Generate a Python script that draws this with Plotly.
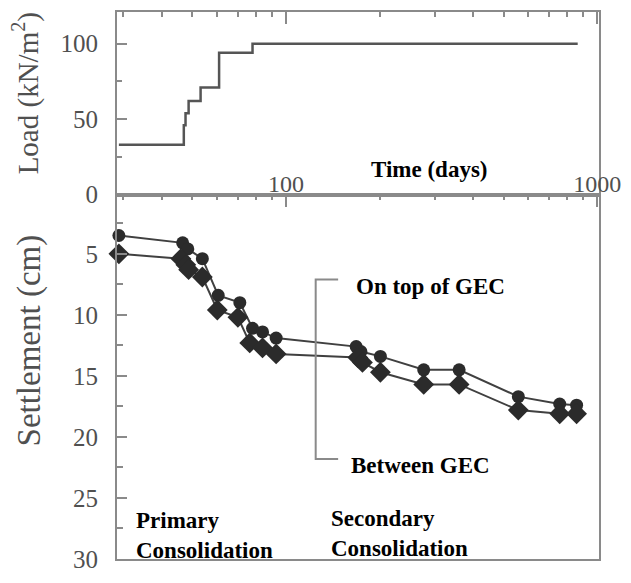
import math
import plotly.graph_objects as go

# ---- data ----
load_days = [29.0, 46.9, 47.5, 48.6, 53.1, 60.9, 78.0, 866]
load_kn = [33, 46, 54, 62, 71, 94, 100, 100]

top_days = [29.0, 46.5, 48.3, 53.8, 60.5, 71.0, 78.0, 84.0, 92.9, 168, 174, 201, 277, 360, 558, 758, 859]
top_settle = [3.5, 4.1, 4.6, 5.4, 8.4, 9.0, 11.1, 11.4, 11.9, 12.6, 13.0, 13.4, 14.5, 14.5, 16.7, 17.3, 17.4]

btw_days = [29.0, 45.9, 47.6, 48.6, 53.8, 60.1, 70.0, 76.4, 84.0, 92.9, 170, 176, 201, 277, 360, 558, 758, 859]
btw_settle = [5.0, 5.4, 5.9, 6.3, 6.9, 9.6, 10.2, 12.3, 12.7, 13.2, 13.5, 13.9, 14.7, 15.7, 15.7, 17.8, 18.1, 18.1]

bracket_days = [147, 124.5, 124.5, 147]
bracket_settle = [7.1, 7.1, 21.8, 21.8]

x_tickvals = [100, 1000]
x_ticktext = ["100", "1000"]
x_minor = [30, 40, 50, 60, 70, 80, 90, 200, 300, 400, 500, 600, 700, 800, 900]
load_ticks = [0, 50, 100]
load_minor = [25, 75]
settle_ticks = [5, 10, 15, 20, 25, 30]
settle_minor = [2.5, 7.5, 12.5, 17.5, 22.5, 27.5]

# ---- figure ----
AX = "#8a8a8a"
TXT = "#505050"
xr = [math.log10(28.6), 3.006]

fig = go.Figure()
fig.add_trace(go.Scatter(x=load_days, y=load_kn, mode="lines", line=dict(color="#555555", width=2.5, shape="hv"),
                         xaxis="x", yaxis="y", showlegend=False, cliponaxis=False))
fig.add_trace(go.Scatter(x=[None], y=[None], xaxis="x3", yaxis="y", showlegend=False, hoverinfo="skip"))
fig.add_trace(go.Scatter(x=top_days, y=top_settle, mode="lines+markers",
                         line=dict(color="#404040", width=2),
                         marker=dict(symbol="circle", size=13, color="#2b2b2b"),
                         xaxis="x2", yaxis="y2", showlegend=False, cliponaxis=False))
fig.add_trace(go.Scatter(x=btw_days, y=btw_settle, mode="lines+markers",
                         line=dict(color="#404040", width=2),
                         marker=dict(symbol="diamond", size=16, color="#2b2b2b"),
                         xaxis="x2", yaxis="y2", showlegend=False, cliponaxis=False))
fig.add_trace(go.Scatter(x=bracket_days, y=bracket_settle, mode="lines",
                         line=dict(color="#8a8a8a", width=2),
                         xaxis="x2", yaxis="y2", showlegend=False))

common_x = dict(type="log", range=xr, showgrid=False, zeroline=False)

fig.update_layout(
    width=631, height=583,
    margin=dict(l=117, r=26, t=10, b=13),
    paper_bgcolor="white", plot_bgcolor="white",
    font=dict(family="Liberation Serif", color=TXT, size=24),
    xaxis=dict(**common_x, anchor="y", side="bottom", showline=True, linecolor=AX, linewidth=2, mirror=True,
               ticks="", tickvals=x_tickvals, ticktext=x_ticktext,
               ticklabelposition="inside", ticklabeloverflow="allow",
               tickfont=dict(size=24, color=TXT)),
    xaxis3=dict(**common_x, anchor="y", overlaying="x", side="top", showline=False,
                ticks="inside", ticklen=12, tickwidth=2, tickcolor=AX, tickvals=x_tickvals,
                showticklabels=False,
                minor=dict(tickvals=x_minor, ticks="inside", ticklen=5, tickwidth=2, tickcolor=AX)),
    xaxis2=dict(**common_x, anchor="y2", side="top", showline=True, linecolor=AX, linewidth=2, mirror=True,
                ticks="inside", ticklen=12, tickwidth=2, tickcolor=AX, tickvals=x_tickvals,
                showticklabels=False,
                minor=dict(tickvals=x_minor, ticks="inside", ticklen=5, tickwidth=2, tickcolor=AX)),
    yaxis=dict(domain=[0.666, 1], range=[0, 121], showgrid=False, zeroline=False,
               showline=True, linecolor=AX, linewidth=2, mirror=True,
               ticks="inside", ticklen=10, tickwidth=2, tickcolor=AX, tickvals=load_ticks,
               minor=dict(tickvals=load_minor, ticks="inside", ticklen=5, tickwidth=2, tickcolor=AX),
               ticklabelstandoff=12, tickfont=dict(size=25, color=TXT)),
    yaxis2=dict(domain=[0, 0.665], range=[30, 0.2], showgrid=False, zeroline=False,
                showline=True, linecolor=AX, linewidth=2, mirror=True,
                ticks="inside", ticklen=10, tickwidth=2, tickcolor=AX, tickvals=settle_ticks,
                minor=dict(tickvals=settle_minor, ticks="inside", ticklen=6, tickwidth=2, tickcolor=AX),
                ticklabelstandoff=12, tickfont=dict(size=25, color=TXT)),
)

# axis titles
fig.add_annotation(text="Load (kN/m<sup>2</sup>)", x=-0.188, y=0.852, xref="paper", yref="paper",
                   textangle=-90, showarrow=False, xanchor="center", yanchor="middle",
                   font=dict(family="Liberation Serif", size=29, color=TXT))
fig.add_annotation(text="Settlement (cm)", x=-0.182, y=0.40, xref="paper", yref="paper",
                   textangle=-90, showarrow=False, xanchor="center", yanchor="middle",
                   font=dict(family="Liberation Serif", size=33, color=TXT))

bold = dict(family="Liberation Serif", size=23, color="black")
ann = [
    dict(text="<b>Time (days)</b>", x=0.648, y=0.712, xanchor="center", yanchor="middle"),
    dict(text="<b>On top of GEC</b>", x=0.491, y=0.499, xanchor="left", yanchor="middle"),
    dict(text="<b>Between GEC</b>", x=0.482, y=0.171, xanchor="left", yanchor="middle"),
    dict(text="<b>Primary<br>Consolidation</b>", x=0.036, y=0.043, xanchor="left", yanchor="middle", align="left"),
    dict(text="<b>Secondary<br>Consolidation</b>", x=0.440, y=0.047, xanchor="left", yanchor="middle", align="left"),
]
for a in ann:
    fig.add_annotation(**a, xref="paper", yref="paper", showarrow=False, font=bold)

fig.write_html("out.html")
